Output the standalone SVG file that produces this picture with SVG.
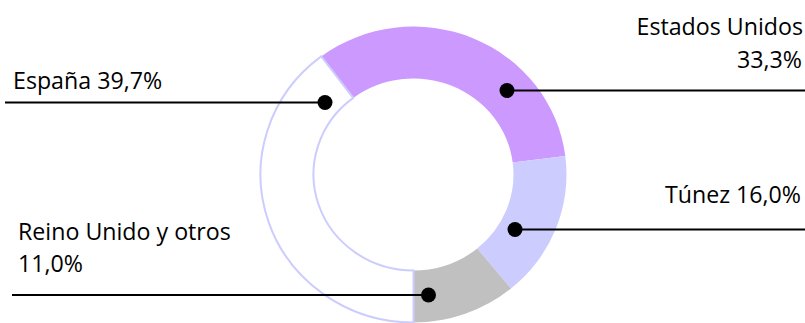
<svg xmlns="http://www.w3.org/2000/svg" width="805" height="323" viewBox="0 0 805 323">
<style>
.lbl{font-family:"Open Sans","Liberation Sans",sans-serif;font-size:23.2px;fill:#000}
.end{text-anchor:end}
.ldr{stroke:#000;stroke-width:2;fill:none}
.dot{fill:#000}
</style>
<rect width="805" height="323" fill="#fff"/>
<g id="estados-unidos">
<path d="M 321.26 56.43 A 153 148 0 0 1 565.29 155.95 L 512.71 162.47 A 100 96 0 0 0 353.21 97.91 Z" fill="#CC99FF"/>
<text class="lbl end" x="803" y="35">Estados Unidos</text>
<text class="lbl end" x="802" y="68">33,3%</text>
</g>
<g id="tunez">
<path d="M 565.29 155.95 A 153 148 0 0 1 511.03 288.54 L 477.24 248.47 A 100 96 0 0 0 512.71 162.47 Z" fill="#CCCCFF"/>
<text class="lbl end" x="801" y="203">Túnez 16,0%</text>
</g>
<g id="reino-unido">
<path d="M 511.03 288.54 A 153 148 0 0 1 413.5 322.5 L 413.5 270.5 A 100 96 0 0 0 477.24 248.47 Z" fill="#C0C0C0"/>
<text class="lbl" x="18" y="240">Reino Unido y otros</text>
<text class="lbl" x="18" y="271.5">11,0%</text>
</g>
<g id="espana">
<path d="M 413.5 322.5 A 153 148 0 0 1 321.26 56.43 L 353.21 97.91 A 100 96 0 0 0 413.5 270.5 Z" fill="#fff" stroke="#CCCCFF" stroke-width="2"/>
<text class="lbl" x="13" y="89">España 39,7%</text>
</g>
<g id="connectors">
<line class="ldr" x1="5" y1="102.5" x2="325" y2="102.5"/>
<circle class="dot" cx="325" cy="102.5" r="7.5"/>
<line class="ldr" x1="507" y1="90.5" x2="805" y2="90.5"/>
<circle class="dot" cx="507" cy="90.5" r="7.5"/>
<line class="ldr" x1="515" y1="229.5" x2="805" y2="229.5"/>
<circle class="dot" cx="515" cy="229.5" r="7.5"/>
<line class="ldr" x1="12" y1="295" x2="428.5" y2="295"/>
<circle class="dot" cx="428.5" cy="295" r="7.5"/>
</g>
</svg>
